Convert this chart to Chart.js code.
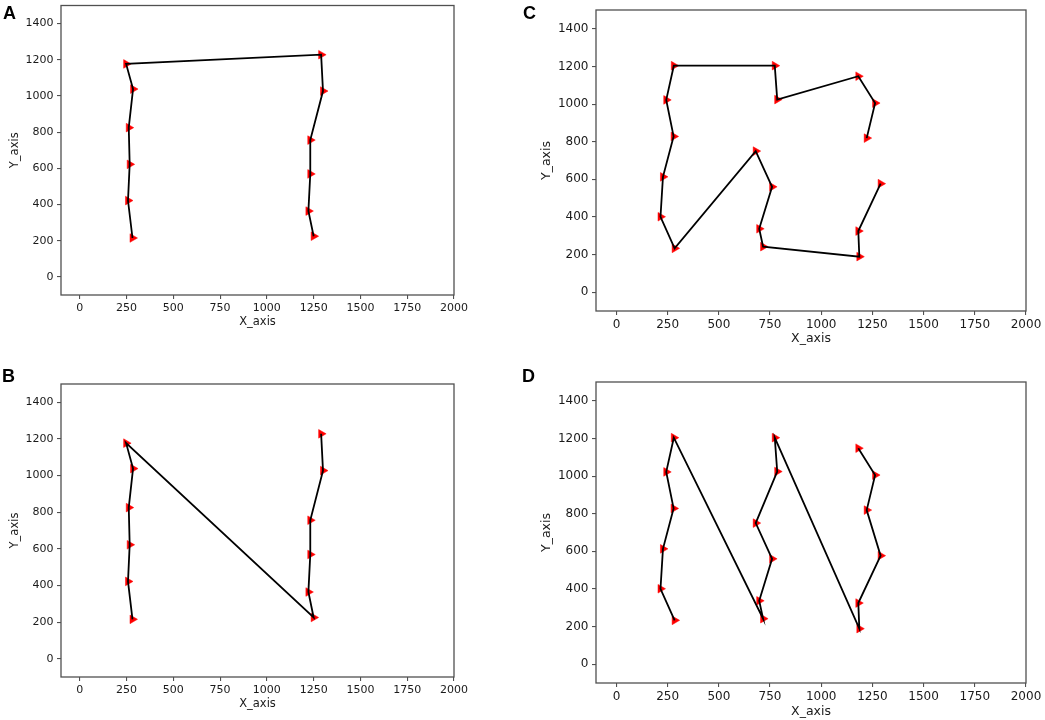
<!DOCTYPE html>
<html>
<head>
<meta charset="utf-8">
<script src="https://cdn.jsdelivr.net/npm/chart.js@4.4.0/dist/chart.umd.min.js"></script>
<style>
  body { margin: 0; background: #fff; }
  #wrap { position: relative; width: 1045px; height: 720px; overflow: hidden; }
  canvas { position: absolute; }
  .tag { position: absolute; font-family: "Liberation Sans", Arial, sans-serif; font-weight: bold; font-size: 18px; line-height: 18px; color: #000; }
</style>
</head>
<body>
<div id="wrap">
  <canvas id="chartA" width="520" height="360" style="left:0;top:0"></canvas>
  <canvas id="chartB" width="520" height="360" style="left:0;top:360px"></canvas>
  <canvas id="chartC" width="525" height="360" style="left:520px;top:0"></canvas>
  <canvas id="chartD" width="525" height="360" style="left:520px;top:360px"></canvas>
  <div class="tag" style="left:3px;top:4px">A</div>
  <div class="tag" style="left:2px;top:367px">B</div>
  <div class="tag" style="left:523px;top:4px">C</div>
  <div class="tag" style="left:522px;top:367px">D</div>
</div>
<script>
// axis ticks shared by all four panels
const xTicks = [0, 250, 500, 750, 1000, 1250, 1500, 1750, 2000];
const yTicks = [0, 200, 400, 600, 800, 1000, 1200, 1400];

// path A: left column bottom->top, then right column top->bottom
const aX = [282, 258, 267, 262, 285, 248, 1290, 1300, 1232, 1232, 1222, 1250];
const aY = [215, 422, 622, 825, 1038, 1177, 1228, 1027, 756, 569, 364, 225];

// path B: left column bottom->top, then right column bottom->top
const bX = [282, 258, 267, 262, 285, 248, 1250, 1222, 1232, 1232, 1300, 1290];
const bY = [215, 422, 622, 825, 1038, 1177, 225, 364, 569, 756, 1027, 1228];

// path C
const cX = [1222, 1263, 1181, 785, 773, 280, 243, 279, 227, 215, 284, 680, 760, 697, 716, 1186, 1181, 1290];
const cY = [819, 1005, 1148, 1024, 1204, 1204, 1022, 828, 613, 401, 233, 750, 560, 337, 242, 189, 325, 577];

// path D
const dX = [284, 215, 227, 279, 243, 280, 716, 697, 760, 680, 785, 773, 1186, 1181, 1290, 1222, 1263, 1181];
const dY = [233, 401, 613, 828, 1022, 1204, 242, 337, 560, 750, 1024, 1204, 189, 325, 577, 819, 1005, 1148];

const frameColor = '#505050';
const textColor = '#1a1a1a';

const framePlugin = {
    id: 'frame',
    afterDatasetsDraw(chart) {
        const a = chart.chartArea;
        const ctx = chart.ctx;
        ctx.save();
        ctx.strokeStyle = frameColor;
        ctx.lineWidth = 1.3;
        ctx.strokeRect(a.left, a.top, a.right - a.left, a.bottom - a.top);
        ctx.restore();
    }
};

function makePanel(id, xs, ys, g) {
    const canvas = document.getElementById(id);
    const cw = canvas.width, ch = canvas.height;
    const pts = xs.map((x, i) => ({ x: x, y: ys[i] }));
    const titleLH = g.titleSize * 1.2;
    const yAxisW = g.area.l - g.left;
    const xAxisH = g.top + ch - g.area.b;

    return new Chart(canvas.getContext('2d'), {
        type: 'scatter',
        data: {
            datasets: [{
                data: pts,
                showLine: true,
                borderColor: '#000',
                borderWidth: 1.8,
                pointRadius: 0,
                order: 1
            }, {
                data: pts,
                showLine: false,
                pointStyle: 'triangle',
                rotation: 90,
                pointRadius: 5,
                pointBackgroundColor: '#ff0000',
                pointBorderColor: '#ff0000',
                pointBorderWidth: 0.5,
                order: 2
            }]
        },
        options: {
            responsive: false,
            animation: false,
            layout: {
                padding: { left: 0, top: g.area.t - g.top, right: g.left + cw - g.area.r, bottom: 0 }
            },
            plugins: { legend: { display: false }, tooltip: { enabled: false } },
            scales: {
                x: {
                    type: 'linear',
                    min: -100,
                    max: 2000,
                    afterBuildTicks: s => { s.ticks = xTicks.map(v => ({ value: v })); },
                    afterFit: s => { s.height = xAxisH; s.paddingLeft = 0; s.paddingRight = 0; },
                    border: { display: false },
                    grid: { drawOnChartArea: false, drawTicks: true, tickLength: 4, color: frameColor, lineWidth: 1.1 },
                    ticks: {
                        color: textColor, padding: 3, maxRotation: 0,
                        font: { family: 'DejaVu Sans', size: g.tickSize },
                        callback: v => String(v)
                    },
                    title: {
                        display: true,
                        text: 'X_axis',
                        color: textColor,
                        font: { family: 'DejaVu Sans', size: g.titleSize },
                        padding: { top: 0, bottom: (g.top + ch - g.xTitleY) - titleLH / 2 }
                    }
                },
                y: {
                    type: 'linear',
                    min: -100,
                    max: 1500,
                    afterBuildTicks: s => { s.ticks = yTicks.map(v => ({ value: v })); },
                    afterFit: s => { s.width = yAxisW; s.paddingTop = 0; s.paddingBottom = 0; },
                    border: { display: false },
                    grid: { drawOnChartArea: false, drawTicks: true, tickLength: 4, color: frameColor, lineWidth: 1.1 },
                    ticks: {
                        color: textColor, padding: 3.5,
                        font: { family: 'DejaVu Sans', size: g.tickSize },
                        callback: v => String(v)
                    },
                    title: {
                        display: true,
                        text: 'Y_axis',
                        color: textColor,
                        font: { family: 'DejaVu Sans', size: g.titleSize },
                        padding: { top: (g.yTitleX - g.left) - titleLH / 2, bottom: 0 }
                    }
                }
            }
        },
        plugins: [framePlugin]
    });
}

makePanel('chartA', aX, aY, { left: 0, top: 0, area: { l: 61, t: 2, r: 454, b: 295 }, xTitleY: 322, yTitleX: 15, tickSize: 11, titleSize: 11.5 });
makePanel('chartB', bX, bY, { left: 0, top: 360, area: { l: 61, t: 384, r: 454, b: 677 }, xTitleY: 704, yTitleX: 15, tickSize: 11, titleSize: 11.5 });
makePanel('chartC', cX, cY, { left: 520, top: 0, area: { l: 596, t: 10, r: 1026, b: 311 }, xTitleY: 339, yTitleX: 547, tickSize: 12, titleSize: 12.5 });
makePanel('chartD', dX, dY, { left: 520, top: 360, area: { l: 596, t: 382, r: 1026, b: 683 }, xTitleY: 711.5, yTitleX: 547, tickSize: 12, titleSize: 12.5 });
</script>
</body>
</html>
